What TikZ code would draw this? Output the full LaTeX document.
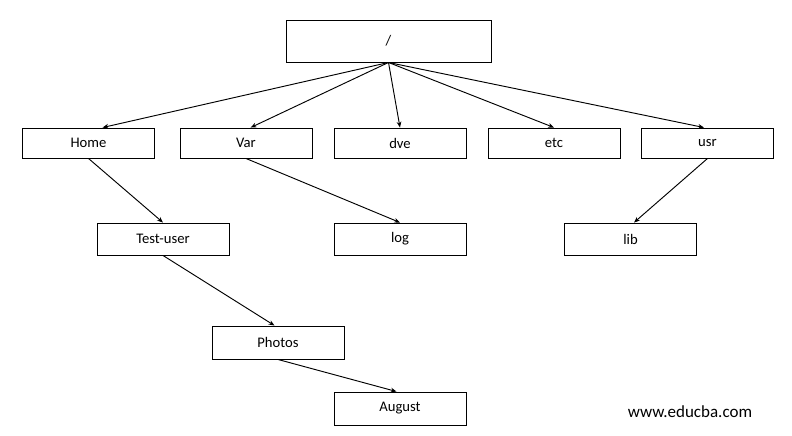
\documentclass[tikz,border=0pt]{standalone}
\usepackage{fontspec}
\setmainfont{Carlito}
\usetikzlibrary{positioning}
\usetikzlibrary{arrows.meta}
\begin{document}
\begin{tikzpicture}[x=0.03cm,y=-0.03cm]
            \tikzset{folder/.style={draw, rectangle, line width=0.8pt, minimum width=3.96cm, minimum height=0.9cm, inner sep=0pt, font=\fontsize{12.5}{14}\selectfont},
                     link/.style={-{Stealth[length=5pt,width=4pt]}, line width=0.8pt}}
            \useasboundingbox (0,0) rectangle (792,435);
            % Directory tree
            \node[folder, minimum width=6.15cm, minimum height=1.26cm] (root) at (388.5,41) {/};
            
            \node[folder] (home) at (88.5,143) {Home};
            \node[folder] (var) at (246,143) {Var};
            \node[folder] (dve) at (400,143) {dve};
            \node[folder] (etc) at (554,143) {etc};
            \node[folder] (usr) at (707.5,143) {usr};
            
            \node[folder, minimum height=0.96cm] (testuser) at (163,239) {Test-user};
            \node[folder, minimum height=0.96cm] (log) at (400,239) {log};
            \node[folder, minimum height=0.96cm] (lib) at (630.5,239) {lib};
            
            \node[folder, minimum height=0.99cm] (photos) at (278,342.5) {Photos};
            \node[folder, minimum height=0.99cm] (august) at (400,408.5) {August};
            
            \node[font=\fontsize{14.5}{16}\selectfont] (site) at (690,412) {www.educba.com};
            
            \draw[link] (root.south) -- ([xshift=12]home.north);
            \draw[link] (root.south) -- ([xshift=4]var.north);
            \draw[link] (root.south) -- (dve.north);
            \draw[link] (root.south) -- (etc.north);
            \draw[link] (root.south) -- ([xshift=-3]usr.north);
            \draw[link] (home.south) -- (testuser.north);
            \draw[link] (var.south) -- (log.north);
            \draw[link] (usr.south) -- ([xshift=3]lib.north);
            \draw[link] (testuser.south) -- ([xshift=-3]photos.north);
            \draw[link] (photos.south) -- ([xshift=-3]august.north);
        \end{tikzpicture}
\end{document}
